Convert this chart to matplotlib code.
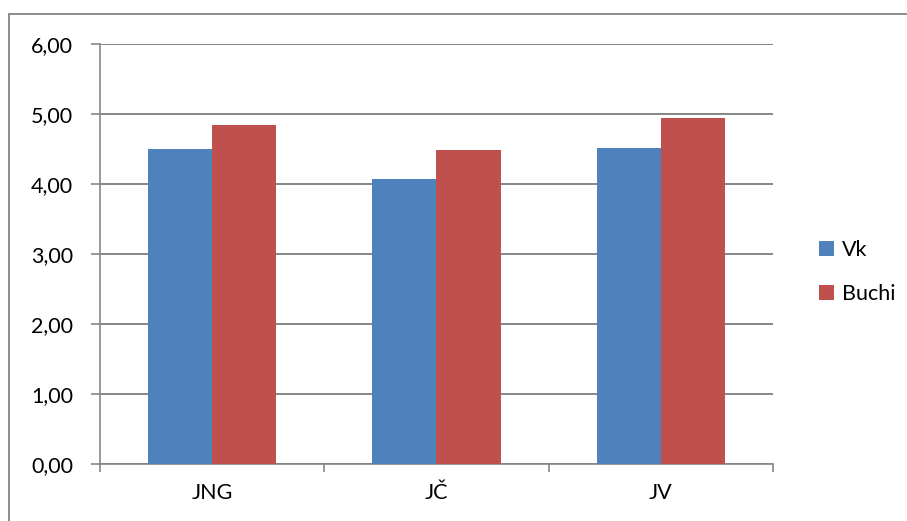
import numpy as np
import matplotlib.pyplot as plt
from matplotlib.ticker import FuncFormatter, FixedLocator
from matplotlib.lines import Line2D

categories = ["JNG", "JČ", "JV"]
vk = [4.50, 4.07, 4.51]
buchi = [4.84, 4.48, 4.95]
series_names = ["Vk", "Buchi"]

plt.rcParams['font.family'] = ['Lato', 'DejaVu Sans']
fs = 15.5

fig = plt.figure(figsize=(9.07, 5.21), dpi=100)
ax = fig.add_axes([100/907, 1 - 464/521, 673/907, 420/521])

x = np.arange(len(categories))
w = 1 / 3.5
ax.bar(x - w/2, vk, w, color="#4F81BD", label=series_names[0], zorder=3)
ax.bar(x + w/2, buchi, w, color="#C0504D", label=series_names[1], zorder=3)

grid_c = "#868686"
ax.set_ylim(0, 6)
ax.set_xlim(-0.5, len(categories) - 0.5)
ax.set_yticks(np.arange(0, 7, 1))
ax.yaxis.set_major_formatter(FuncFormatter(lambda v, p: "{:.2f}".format(v).replace(".", ",")))
ax.grid(axis="y", color=grid_c, linewidth=1.4, zorder=0)
ax.set_axisbelow(True)

ax.set_xticks(x)
ax.set_xticklabels(categories)
ax.xaxis.set_minor_locator(FixedLocator(np.arange(-0.5, len(categories), 1)))
ax.tick_params(axis="x", which="major", length=0, pad=14, labelsize=fs)
ax.tick_params(axis="x", which="minor", length=6, width=1.2, color=grid_c, direction="out")
ax.tick_params(axis="y", length=6.5, width=1.2, color=grid_c, pad=13, labelsize=fs)

for s in ["top", "right"]:
    ax.spines[s].set_visible(False)
for s in ["left", "bottom"]:
    ax.spines[s].set_color(grid_c)
    ax.spines[s].set_linewidth(1.2)

fig.legend(loc="center left", bbox_to_anchor=(810/907, 1 - 272/521), frameon=False,
           fontsize=fs, handlelength=0.7, handleheight=0.7, handletextpad=0.4,
           labelspacing=1.1, borderaxespad=0)

# chart border (top and left visible)
fig.add_artist(Line2D([9/907, 1], [1 - 14/521, 1 - 14/521], color="#8c8c8c", lw=1.4, transform=fig.transFigure))
fig.add_artist(Line2D([9/907, 9/907], [0, 1 - 14/521], color="#8c8c8c", lw=1.4, transform=fig.transFigure))

fig.savefig("out.png", dpi=100)
